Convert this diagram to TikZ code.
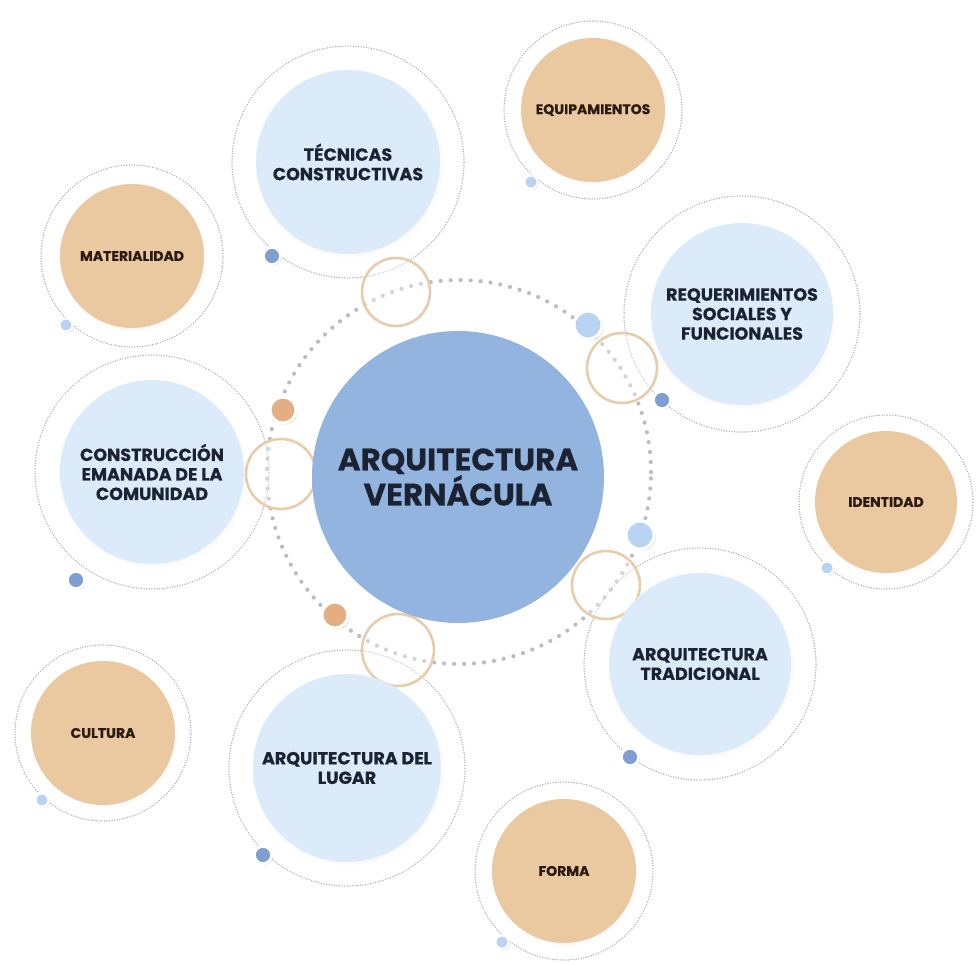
\documentclass[tikz,border=0pt]{standalone}
\usepackage{fontspec}
\setmainfont{Poppins}[BoldFeatures={FakeBold=0.5}]
\usetikzlibrary{shadows}
\definecolor{cmain}{HTML}{92B4DF}
\definecolor{csat}{HTML}{DCEBFA}
\definecolor{ctan}{HTML}{EAC8A0}
\definecolor{ctanline}{HTML}{E9CDAA}
\definecolor{cdotor}{HTML}{E2AE82}
\definecolor{cdotlb}{HTML}{B8D4F2}
\definecolor{cdotb}{HTML}{7F9FD3}
\definecolor{cring}{HTML}{B9BDC6}
\definecolor{cfine}{HTML}{A9ADB5}
\definecolor{ctxt}{HTML}{1B2232}
\definecolor{ctxtb}{HTML}{2B1B12}
\begin{document}
\begin{tikzpicture}[x=1pt,y=-1pt,
  mainc/.style={circle, fill=cmain, inner sep=0pt, text=ctxt, align=center,
    font=\bfseries\fontsize{31}{32}\selectfont},
  satc/.style={circle, fill=csat, inner sep=0pt, text=ctxt, align=center,
    font=\bfseries\fontsize{17.5}{19.5}\selectfont,
    circular drop shadow={shadow xshift=1pt, shadow yshift=-2pt, opacity=0.10, shadow scale=1.03}},
  tanc/.style={circle, fill=ctan, inner sep=0pt, text=ctxtb, align=center,
    font=\bfseries\fontsize{14}{16}\selectfont,
    circular drop shadow={shadow xshift=1pt, shadow yshift=-2pt, opacity=0.10, shadow scale=1.03}},
  bigring/.style={draw=cring, line width=4.2pt, line cap=round, dash pattern=on 0pt off 10pt},
  finering/.style={draw=cfine, line width=1.5pt, line cap=round, dash pattern=on 0pt off 2.6pt},
  linkring/.style={circle, draw=ctanline, line width=2.6pt, fill=white, fill opacity=0.35, inner sep=0pt},
  dotb/.style={circle, fill=cdotb, draw=white, line width=2.5pt, inner sep=0pt, minimum size=17pt,
    circular drop shadow={shadow xshift=1.5pt, shadow yshift=-1.5pt, opacity=0.25, shadow scale=1.0}},
  dotlbs/.style={circle, fill=cdotlb, draw=white, line width=2pt, inner sep=0pt, minimum size=13pt,
    circular drop shadow={shadow xshift=1.5pt, shadow yshift=-1.5pt, opacity=0.2, shadow scale=1.0}},
  dotlb/.style={circle, fill=cdotlb, draw=white, line width=3pt, inner sep=0pt, minimum size=28pt,
    circular drop shadow={shadow xshift=2pt, shadow yshift=-2pt, opacity=0.25, shadow scale=1.0}},
  dotor/.style={circle, fill=cdotor, draw=white, line width=3pt, inner sep=0pt, minimum size=26pt,
    circular drop shadow={shadow xshift=2pt, shadow yshift=-2pt, opacity=0.25, shadow scale=1.0}},
]
\useasboundingbox (0,0) rectangle (977,964);
\fill[white] (0,0) rectangle (977,964);

% anchor coordinates
\coordinate (cT) at (348,162);
\coordinate (cR) at (742,314);
\coordinate (cCo) at (152,472);
\coordinate (cTr) at (700,664);
\coordinate (cL) at (347,768);
\coordinate (cE) at (593,110);
\coordinate (cM) at (132,256);
\coordinate (cI) at (886,502);
\coordinate (cCu) at (103,733);
\coordinate (cF) at (564,871);
\coordinate (cC) at (458,477);
\coordinate (cRing) at (459,472);

% fine dotted outer rings
\draw[finering] (cT) circle (116pt);
\draw[finering] (cR) circle (118pt);
\draw[finering] (cCo) circle (117pt);
\draw[finering] (cTr) circle (116pt);
\draw[finering] (cL) circle (118pt);
\draw[finering] (cE) circle (89pt);
\draw[finering] (cM) circle (91pt);
\draw[finering] (cI) circle (87pt);
\draw[finering] (cCu) circle (88pt);
\draw[finering] (cF) circle (89pt);

% big dotted ring around the centre
\draw[bigring] (cRing) circle (192pt);

% linking rings
\node[linkring, minimum size=68pt] (lT) at (396,292) {};
\node[linkring, minimum size=70pt] (lR) at (622,368) {};
\node[linkring, minimum size=70pt] (lCo) at (281,474) {};
\node[linkring, minimum size=68pt] (lTr) at (606,585) {};
\node[linkring, minimum size=72pt] (lL) at (398,650) {};

% main circles
\node[mainc, minimum size=292pt] (C) at (cC) {ARQUITECTURA\\VERNÁCULA};

\node[satc, minimum size=184pt] (T) at (cT) {TÉCNICAS\\CONSTRUCTIVAS};
\node[satc, minimum size=182pt] (R) at (cR) {REQUERIMIENTOS\\SOCIALES Y\\FUNCIONALES};
\node[satc, minimum size=184pt] (Co) at (cCo) {CONSTRUCCIÓN\\EMANADA DE LA\\COMUNIDAD};
\node[satc, minimum size=182pt] (Tr) at (cTr) {ARQUITECTURA\\TRADICIONAL};
\node[satc, minimum size=188pt] (L) at (cL) {ARQUITECTURA DEL\\LUGAR};

\node[tanc, minimum size=144pt] (E) at (cE) {EQUIPAMIENTOS};
\node[tanc, minimum size=144pt] (M) at (cM) {MATERIALIDAD};
\node[tanc, minimum size=142pt] (I) at (cI) {IDENTIDAD};
\node[tanc, minimum size=144pt] (Cu) at (cCu) {CULTURA};
\node[tanc, minimum size=144pt] (F) at (cF) {FORMA};

% small dots on the satellite rings
\node[dotb] (dT) at (272,256) {};
\node[dotb] (dR) at (662,400) {};
\node[dotb] (dCo) at (76,580) {};
\node[dotb] (dTr) at (630,757) {};
\node[dotb] (dL) at (263,855) {};
\node[dotlbs] (dE) at (531,182) {};
\node[dotlbs] (dM) at (66,325) {};
\node[dotlbs] (dI) at (827,568) {};
\node[dotlbs] (dCu) at (42,800) {};
\node[dotlbs] (dF) at (502,942) {};

% dots on the central ring
\node[dotlb] (d1) at (588,325) {};
\node[dotor] (d2) at (283,410) {};
\node[dotlb] (d3) at (640,535) {};
\node[dotor] (d4) at (335,615) {};
\end{tikzpicture}
\end{document}
